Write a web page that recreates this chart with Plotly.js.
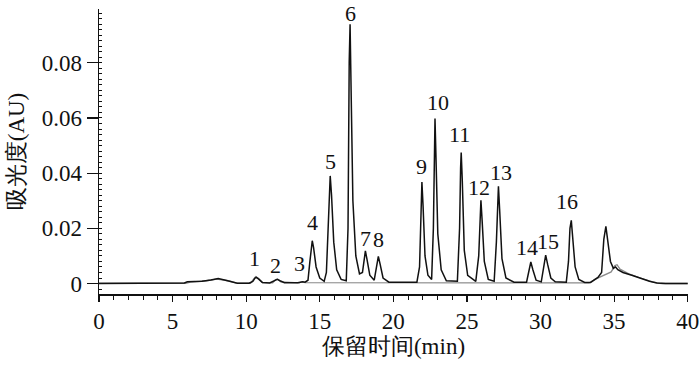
<!DOCTYPE html>
<html>
<head>
<meta charset="utf-8">
<script src="https://cdn.plot.ly/plotly-3.0.1.min.js"></script>
<style>html,body{margin:0;padding:0;background:#fff;}#chart{width:700px;height:365px;}</style>
</head>
<body>
<div id="chart"></div>
<script>
// Black trace (sample chromatogram): retention time (min) and absorbance (AU)
const blackTime = [
  0, 2.9, 3.0, 5.8, 6.0, 7.0, 7.6, 8.1, 8.6, 9.0, 9.4, 10.2,
  10.45, 10.6, 10.69, 10.85, 11.1, 11.6,
  11.9, 12.11, 12.3, 12.6, 13.5,
  13.7, 13.85, 14.0,
  14.2, 14.33, 14.43, 14.49, 14.58, 14.75, 15.0, 15.3,
  15.45, 15.58, 15.66, 15.71, 15.8, 15.95, 16.15, 16.45, 16.8,
  16.92, 17.0, 17.06, 17.13, 17.25, 17.45, 17.7,
  17.9, 18.02, 18.1, 18.2, 18.4, 18.7,
  18.85, 18.98, 19.1, 19.3, 19.7, 21.6,
  21.78, 21.88, 21.94, 22.02, 22.15, 22.35, 22.6,
  22.72, 22.78, 22.83, 22.9, 23.02, 23.25, 23.6, 24.35,
  24.5, 24.57, 24.61, 24.68, 24.82, 25.05, 25.6,
  25.8, 25.9, 25.95, 26.03, 26.18, 26.45, 26.85,
  27.0, 27.08, 27.14, 27.22, 27.38, 27.65, 28.2, 29.05,
  29.2, 29.34, 29.48, 29.7, 30.05,
  30.2, 30.35, 30.48, 30.7, 31.0, 31.75,
  31.9, 32.0, 32.09, 32.18, 32.35, 32.6, 33.0, 33.4,
  33.6, 33.9, 34.15, 34.3, 34.44, 34.56, 34.75, 34.95, 35.1, 35.25, 35.6, 36.2, 36.8, 37.4, 37.9, 38.5, 40
];
const blackAbs = [
  0, 0, 0.0002, 0.0002, 0.0006, 0.0008, 0.0013, 0.0018, 0.0012, 0.0006, 0.0001, 0.0001,
  0.0008, 0.0020, 0.0022, 0.0016, 0.0004, 0.0002,
  0.0008, 0.0015, 0.0010, 0.0003, 0.0003,
  0.0005, 0.0006, 0.0005,
  0.0012, 0.0080, 0.0145, 0.0155, 0.0130, 0.0060, 0.0020, 0.0008,
  0.0040, 0.0250, 0.0370, 0.0390, 0.0320, 0.0150, 0.0050, 0.0015, 0.0010,
  0.0200, 0.0800, 0.0940, 0.0700, 0.0300, 0.0100, 0.0035,
  0.0040, 0.0100, 0.0118, 0.0090, 0.0030, 0.0012,
  0.0060, 0.0098, 0.0070, 0.0020, 0.0005, 0.0005,
  0.0060, 0.0300, 0.0368, 0.0280, 0.0100, 0.0030, 0.0015,
  0.0200, 0.0520, 0.0598, 0.0450, 0.0180, 0.0050, 0.0010, 0.0008,
  0.0200, 0.0420, 0.0475, 0.0380, 0.0120, 0.0030, 0.0008,
  0.0100, 0.0270, 0.0302, 0.0230, 0.0080, 0.0015, 0.0008,
  0.0150, 0.0320, 0.0352, 0.0270, 0.0090, 0.0020, 0.0005, 0.0005,
  0.0040, 0.0078, 0.0050, 0.0012, 0.0006,
  0.0050, 0.0103, 0.0070, 0.0020, 0.0006, 0.0005,
  0.0080, 0.0200, 0.0229, 0.0180, 0.0060, 0.0015, 0.0004, 0.0004,
  0.0012, 0.0022, 0.0040, 0.0160, 0.0207, 0.0160, 0.0080, 0.0055, 0.0060, 0.0050, 0.0040, 0.0030, 0.0018, 0.0008, 0.0002, 0, 0
];
// Grey trace (blank / reference chromatogram)
const greyTime = [
  0, 5.9, 6.2, 7.3, 8.0, 8.8, 9.3, 10.3, 10.5, 10.65, 10.85, 11.1, 11.8, 12.0, 12.15, 12.35,
  13.6, 13.8, 14.0, 33.3, 33.7, 34.3, 34.8, 35.05, 35.2, 35.4, 36.0, 36.8, 37.6, 38.2, 40
];
const greyAbs = [
  0.0001, 0.0001, 0.0005, 0.0010, 0.0016, 0.0010, 0.0002, 0.0001, 0.0016, 0.0025, 0.0018, 0.0003, 0.0002, 0.0014, 0.0016, 0.0006,
  0.0002, 0.0007, 0.0003, 0.0002, 0.0015, 0.0030, 0.0042, 0.0065, 0.0068, 0.0052, 0.0035, 0.0020, 0.0006, 0, 0
];
// Peak labels and apex positions
const peakLabels = ['1','2','3','4','5','6','7','8','9','10','11','12','13','14','15','16'];
const peakTimes  = [10.69, 12.11, 13.85, 14.49, 15.71, 17.06, 18.1, 18.98, 21.94, 22.83, 24.61, 25.95, 27.14, 29.34, 30.35, 32.09];
const peakHeights= [0.0025, 0.0018, 0.0006, 0.0155, 0.0390, 0.0940, 0.0118, 0.0098, 0.0368, 0.0598, 0.0475, 0.0302, 0.0352, 0.0078, 0.0103, 0.0229];
const labelXShift = [-2, -2, -3, 0, 0, 0, 0, 0, 0, 3, -2, -2, 3, -4, 2, -4];
const labelYShift = [4, -1, 4, 4, 0, -4, -2, 2, 1, 2, 3, -2, -1, 0, -1, 4];

const yTickVals = [0, 0.02, 0.04, 0.06, 0.08];
const yTickText = ['0', '0.02', '0.04', '0.06', '0.08'];
const xTickVals = [0, 5, 10, 15, 20, 25, 30, 35, 40];
const xTickText = ['0', '5', '10', '15', '20', '25', '30', '35', '40'];

const serif = 'Liberation Serif';

const traces = [
  {x: greyTime, y: greyAbs, type: 'scatter', mode: 'lines', line: {color: '#8a8a8a', width: 1.3}, hoverinfo: 'skip', cliponaxis: false},
  {x: blackTime, y: blackAbs, type: 'scatter', mode: 'lines', line: {color: '#111111', width: 1.5}, hoverinfo: 'skip', cliponaxis: false}
];

const annotations = peakLabels.map((t, i) => ({
  x: peakTimes[i], y: peakHeights[i], xref: 'x', yref: 'y', text: t,
  showarrow: false, yanchor: 'bottom', xanchor: 'center',
  xshift: labelXShift[i], yshift: labelYShift[i],
  font: {family: serif, size: 22, color: '#111'}
}));

const layout = {
  width: 700, height: 365,
  margin: {l: 99, r: 12, t: 9, b: 71},
  paper_bgcolor: '#fff', plot_bgcolor: '#fff',
  showlegend: false,
  font: {family: serif, color: '#111'},
  xaxis: {
    range: [0, 40.02], tickvals: xTickVals, ticktext: xTickText, ticks: 'outside', ticklen: 6, tickwidth: 1.2, tickcolor: '#111',
    showline: true, linecolor: '#111', linewidth: 1.5, showgrid: false, zeroline: false,
    tickfont: {family: serif, size: 23, color: '#111'},
    minor: {dtick: 1, tick0: 0, ticks: 'outside', ticklen: 4, tickcolor: '#111', tickwidth: 1, showgrid: false},
    title: {text: '保留时间(min)', font: {family: serif, size: 23, color: '#111'}, standoff: 2},
    automargin: false
  },
  yaxis: {
    range: [-0.0038, 0.0995], tickvals: yTickVals, ticktext: yTickText, ticks: 'outside', ticklen: 11, tickwidth: 1.2, tickcolor: '#111',
    showline: true, linecolor: '#111', linewidth: 1.5, showgrid: false, zeroline: false,
    tickfont: {family: serif, size: 23, color: '#111'},
    minor: {dtick: 0.002, tick0: 0, ticks: 'inside', ticklen: 3, tickcolor: '#111', tickwidth: 1, showgrid: false},
    title: {text: '吸光度(AU)', font: {family: serif, size: 23, color: '#111'}, standoff: 10},
    automargin: false
  },
  annotations: annotations
};

Plotly.newPlot('chart', traces, layout, {staticPlot: true, displayModeBar: false});
</script>
</body>
</html>
